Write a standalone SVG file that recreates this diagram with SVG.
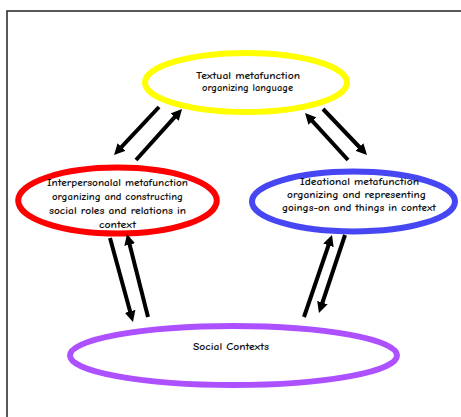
<svg xmlns="http://www.w3.org/2000/svg" width="461" height="417" viewBox="0 0 461 417">
<style>
.bg{fill:#ffffff}
.frame{fill:none;stroke:#222222;stroke-width:1.5}
.node{fill:none;stroke-width:6}
.lbl{font-family:"Comic Sans MS","Comic Neue","Liberation Sans",sans-serif;font-size:9px;font-weight:bold;fill:#111111;text-anchor:middle}
.conn{stroke:#000000;stroke-width:4;fill:none;marker-end:url(#ah)}
</style>
<defs>
<marker id="ah" markerUnits="userSpaceOnUse" markerWidth="12" markerHeight="11" refX="2" refY="5.5" orient="auto">
<path d="M0,0 L11,5.5 L0,11 Z" fill="#000000"/>
</marker>
</defs>
<rect class="bg" x="0" y="0" width="461" height="417"/>
<path class="frame" d="M7,417 L7,11 L461,11"/>
<g id="textual">
<ellipse class="node" cx="246" cy="82.5" rx="101" ry="29.5" stroke="#ffff00"/>
<text class="lbl" x="248" y="79" textLength="104" lengthAdjust="spacingAndGlyphs">Textual metafunction</text>
<text class="lbl" x="247.5" y="91" textLength="91" lengthAdjust="spacingAndGlyphs">organizing language</text>
</g>
<g id="interpersonal">
<ellipse class="node" cx="117.5" cy="200.6" rx="99.3" ry="33" stroke="#ff0000"/>
<text class="lbl" x="117.5" y="185.5" textLength="141" lengthAdjust="spacingAndGlyphs">Interpersonalal metafunction</text>
<text class="lbl" x="117.5" y="199.7" textLength="131" lengthAdjust="spacingAndGlyphs">organizing and constructing</text>
<text class="lbl" x="117.5" y="214" textLength="137" lengthAdjust="spacingAndGlyphs">social roles and relations in</text>
<text class="lbl" x="117.5" y="228" textLength="37" lengthAdjust="spacingAndGlyphs">context</text>
</g>
<g id="ideational">
<ellipse class="node" cx="353.5" cy="201.5" rx="101.5" ry="30" stroke="#4646f2"/>
<text class="lbl" x="359.5" y="185" textLength="119" lengthAdjust="spacingAndGlyphs">Ideational metafunction</text>
<text class="lbl" x="356.5" y="198" textLength="139" lengthAdjust="spacingAndGlyphs">organizing and representing</text>
<text class="lbl" x="359" y="211" textLength="154" lengthAdjust="spacingAndGlyphs">goings-on and things in context</text>
</g>
<g id="social">
<ellipse class="node" cx="233.5" cy="355.5" rx="163.5" ry="29.5" stroke="#ad50ff"/>
<text class="lbl" x="231" y="350" textLength="76" lengthAdjust="spacingAndGlyphs">Social Contexts</text>
</g>
<g id="connectors">
<line class="conn" x1="159" y1="107" x2="120.2" y2="148.4"/>
<line class="conn" x1="136" y1="160" x2="176" y2="115.7"/>
<line class="conn" x1="348" y1="160" x2="311.1" y2="119.6"/>
<line class="conn" x1="323" y1="109" x2="360.8" y2="148.5"/>
<line class="conn" x1="110" y1="238" x2="130.6" y2="313.3"/>
<line class="conn" x1="148" y1="317" x2="129.2" y2="242.7"/>
<line class="conn" x1="304" y1="317" x2="329.1" y2="243.5"/>
<line class="conn" x1="345" y1="235" x2="321.8" y2="304.5"/>
</g>
</svg>
